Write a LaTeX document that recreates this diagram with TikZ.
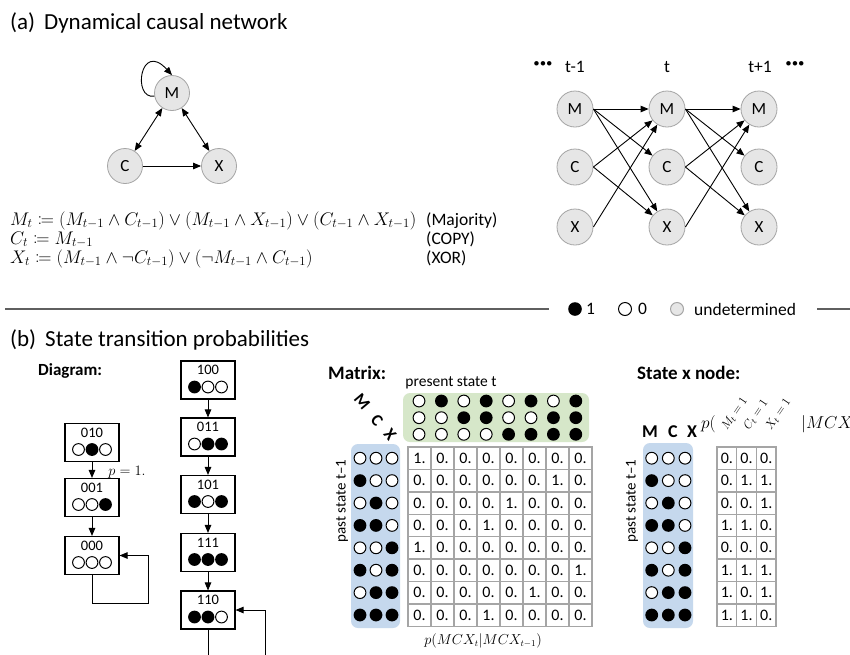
\documentclass[tikz,border=0pt]{standalone}
\usepackage{amsmath}
\usepackage{mathtools}
\usepackage{graphicx}
\usepackage{fontspec}
\setmainfont{Carlito}
\usetikzlibrary{arrows.meta}
\definecolor{nodefill}{RGB}{230,230,230}
\definecolor{nodedraw}{RGB}{165,165,165}
\definecolor{bluebg}{RGB}{197,216,237}
\definecolor{greenbg}{RGB}{214,231,201}
\definecolor{gridgray}{RGB}{165,165,165}
\definecolor{rulegray}{RGB}{95,95,95}
\newcommand\fs[1]{\fontsize{#1}{#1}\selectfont}
\newcommand\eqs[1]{\scalebox{1.058}{$#1$}}
\newcommand\bitc[3]{\ifnum#3=1 \fill[black] (#1,#2) circle[radius=6.4pt];\else\draw[black,line width=1pt,fill=white] (#1,#2) circle[radius=5.9pt];\fi}
\newcommand\stnode[6]{%
  \node[stbox] (#1) at (#2,#3) {};
  \node[boxlbl] (#1l) at ([yshift=10pt]#1.center) {#4};
  \bitc{#2-13.5}{#3+7}{#5}\bitc{#2}{#3+7}{#6}}
\newcommand\stbit[3]{\bitc{#1+13.5}{#2+7}{#3}}
\begin{document}
\begin{tikzpicture}[x=1pt,y=-1pt,
  netnode/.style={circle,draw=nodedraw,fill=nodefill,line width=0.8pt,minimum size=35pt,inner sep=0pt,font=\fs{17}},
  arr/.style={-{Triangle[length=8pt,width=6.5pt]},line width=0.9pt},
  darr/.style={{Triangle[length=8pt,width=6.5pt]}-{Triangle[length=8pt,width=6.5pt]},line width=0.9pt},
  stbox/.style={draw,line width=1.1pt,minimum width=54pt,minimum height=38pt,inner sep=0pt},
  boxlbl/.style={font=\fs{14.5},inner sep=0pt},
  mcell/.style={draw=gridgray,line width=1.4pt,minimum width=23pt,minimum height=22.4pt,inner sep=0pt,font=\fs{16}},
  xcell/.style={mcell,minimum width=19.7pt},
  lbl/.style={inner sep=0pt},
  head/.style={inner sep=0pt,font=\fs{23}},
  eqn/.style={inner sep=0pt,anchor=base west,font=\fs{17.28}},
]
\useasboundingbox (0,0) rectangle (850,654);
\clip (0,0) rectangle (850,654);
\fill[white] (0,0) rectangle (850,654);

% ---------- (a)
\node[head,anchor=west] (ha) at (10,23) {(a)\, Dynamical causal network};

\node[netnode] (M) at (172,93) {M};
\node[netnode] (C) at (125,166) {C};
\node[netnode] (X) at (219,166) {X};
\draw[darr] (M) -- (C);
\draw[darr] (M) -- (X);
\draw[arr] (C) -- (X);
\draw[arr] (M.190) .. controls (132,100) and (140,40) .. (M.north);

\foreach \col/\xx in {A/575,B/667,C/759}{
  \node[netnode,minimum size=36pt] (m\col) at (\xx,109) {M};
  \node[netnode,minimum size=36pt] (c\col) at (\xx,167) {C};
  \node[netnode,minimum size=36pt] (x\col) at (\xx,227) {X};
}
\foreach \s/\t in {A/B,B/C}{
  \draw[arr] (m\s.east) -- (m\t);
  \draw[arr] (m\s.east) -- (c\t);
  \draw[arr] (m\s.east) -- (x\t);
  \draw[arr] (c\s.east) -- (m\t);
  \draw[arr] (c\s.east) -- (x\t);
  \draw[arr] (x\s.east) -- (m\t);
}
\node[lbl,font=\fs{17.5}] (tA) at (575,67) {t-1};
\node[lbl,font=\fs{17.5}] (tB) at (667,67) {t};
\node[lbl,font=\fs{17.5}] (tC) at (760,67) {t+1};
\node[lbl,font=\fs{24}\bfseries] (d1) at (543,66) {···};
\node[lbl,font=\fs{24}\bfseries] (d2) at (795,66) {···};

\node[eqn] (eq1) at (10,225) {\eqs{M_t \coloneqq (M_{t-1}\wedge C_{t-1})\vee(M_{t-1}\wedge X_{t-1})\vee(C_{t-1}\wedge X_{t-1})}};
\node[eqn] (eq2) at (10,244) {\eqs{C_t \coloneqq M_{t-1}}};
\node[eqn] (eq3) at (10,263) {\eqs{X_t \coloneqq (M_{t-1}\wedge\neg C_{t-1})\vee(\neg M_{t-1}\wedge C_{t-1})}};
\node[lbl,anchor=base west,font=\fs{17.5}] (n1) at (426,225) {(Majority)};
\node[lbl,anchor=base west,font=\fs{17.5}] (n2) at (426,244) {(COPY)};
\node[lbl,anchor=base west,font=\fs{17.5}] (n3) at (426,263) {(XOR)};

% ---------- separator and legend
\draw[rulegray,line width=1.6pt] (5,309) -- (549,309);
\draw[rulegray,line width=1.6pt] (817,309) -- (850,309);
\fill[black] (575,309) circle[radius=6.8pt];
\node[lbl,anchor=west,font=\fs{17.5}] (l1) at (586,309) {1};
\draw[black,line width=1pt,fill=white] (625,309) circle[radius=6.5pt];
\node[lbl,anchor=west,font=\fs{17.5}] (l0) at (638,309) {0};
\draw[nodedraw,line width=1pt,fill=nodefill] (677,309) circle[radius=6.5pt];
\node[lbl,anchor=west,font=\fs{17.5}] (lu) at (694,309) {undetermined};

% ---------- (b)
\node[head,anchor=west] (hb) at (10,340) {(b)\, State transition probabilities};

% Diagram
\node[lbl,anchor=west,font=\fs{17}\bfseries] (hd) at (38,371) {Diagram:};
\stnode{b010}{92}{442.5}{010}{0}{1}\stbit{92}{442.5}{0}
\stnode{b001}{92}{497.5}{001}{0}{0}\stbit{92}{497.5}{1}
\stnode{b000}{92}{555.5}{000}{0}{0}\stbit{92}{555.5}{0}
\stnode{b100}{208}{380}{100}{1}{0}\stbit{208}{380}{0}
\stnode{b011}{208}{437}{011}{0}{1}\stbit{208}{437}{1}
\stnode{b101}{208}{494.5}{101}{1}{0}\stbit{208}{494.5}{1}
\stnode{b111}{208}{552.5}{111}{1}{1}\stbit{208}{552.5}{1}
\stnode{b110}{208}{610}{110}{1}{1}\stbit{208}{610}{0}
\draw[arr] (b010) -- (b001);
\draw[arr] (b001) -- (b000);
\draw[arr] (b100) -- (b011);
\draw[arr] (b011) -- (b101);
\draw[arr] (b101) -- (b111);
\draw[arr] (b111) -- (b110);
\node[lbl,font=\fs{14.5}] (p1) at (127,472) {$p=1.$};
\coordinate (loopA) at (148,603);
\draw[arr] (b000.south) |- (loopA) |- (b000.east);
\coordinate (loopB) at (208,660);
\coordinate (loopC) at (265,660);
\draw[line width=0.9pt] (b110.south) -- (loopB);
\draw[arr] (loopC) |- (b110.east);

% Matrix
\node[lbl,anchor=west,font=\fs{19}\bfseries] (hm) at (328,373) {Matrix:};
\node[lbl,font=\fs{15.5}] (ps) at (451,383) {present state t};
\fill[greenbg,rounded corners=7pt] (403,393) rectangle (589,442);
\foreach \j in {0,...,7}{
  \pgfmathtruncatemacro\bm{mod(\j,2)}
  \pgfmathtruncatemacro\bc{mod(floor(\j/2),2)}
  \pgfmathtruncatemacro\bx{floor(\j/4)}
  \pgfmathsetmacro\xx{419+22.4*\j}
  \bitc{\xx}{401}{\bm}
  \bitc{\xx}{417.7}{\bc}
  \bitc{\xx}{434.3}{\bx}
}
\node[lbl,font=\fs{17}\bfseries,rotate=-50] (rM) at (362,402) {M};
\node[lbl,font=\fs{17}\bfseries,rotate=-50] (rC) at (377,420) {C};
\node[lbl,font=\fs{17}\bfseries,rotate=-50] (rX) at (390,435) {X};

\fill[bluebg,rounded corners=7pt] (351,444) rectangle (400,628);
\fill[bluebg,rounded corners=7pt] (643,443) rectangle (693,628);
\foreach \a/\b/\c [count=\i from 0] in {0/0/0,1/0/0,0/1/0,1/1/0,0/0/1,1/0/1,0/1/1,1/1/1}{
  \pgfmathsetmacro\yy{458.2+22.4*\i}
  \bitc{360}{\yy}{\a}\bitc{376}{\yy}{\b}\bitc{392}{\yy}{\c}
  \bitc{651.7}{\yy}{\a}\bitc{668.3}{\yy}{\b}\bitc{685}{\yy}{\c}
}
\node[lbl,font=\fs{15},rotate=90] (pst1) at (342,501) {past state t–1};
\node[lbl,font=\fs{15},rotate=90] (pst2) at (632,501) {past state t–1};

\foreach \row [count=\i from 0] in {{1,0,0,0,0,0,0,0},{0,0,0,0,0,0,1,0},{0,0,0,0,1,0,0,0},{0,0,0,1,0,0,0,0},{1,0,0,0,0,0,0,0},{0,0,0,0,0,0,0,1},{0,0,0,0,0,1,0,0},{0,0,0,1,0,0,0,0}}{
  \foreach \v [count=\j from 0] in \row{
    \node[mcell] (m-\i-\j) at ({419.5+23*\j},{458.2+22.4*\i}) {\v.};
  }
}
\node[lbl,font=\fs{13.5}] (pm) at (483,641) {$p(MCX_t|MCX_{t-1})$};

% State x node
\node[lbl,anchor=west,font=\fs{19}\bfseries] (hs) at (637,373) {State x node:};
\node[lbl,font=\fs{18}\bfseries] (sM) at (650,432) {M};
\node[lbl,font=\fs{18}\bfseries] (sC) at (673,432) {C};
\node[lbl,font=\fs{18}\bfseries] (sX) at (692,432) {X};
\foreach \row [count=\i from 0] in {{0,0,0},{0,1,1},{0,0,1},{1,1,0},{0,0,0},{1,1,1},{1,0,1},{1,1,0}}{
  \foreach \v [count=\j from 0] in \row{
    \node[xcell] (s-\i-\j) at ({726.85+19.7*\j},{458.2+22.4*\i}) {\v.};
  }
}
\node[lbl,anchor=base west,font=\fs{16}] (pp) at (701,428) {$p($};
\node[lbl,anchor=base west,font=\fs{13},rotate=56] (rm1) at (727,431) {$M_t=1$};
\node[lbl,anchor=base west,font=\fs{13},rotate=56] (rc1) at (749,431) {$C_t=1$};
\node[lbl,anchor=base west,font=\fs{13},rotate=56] (rx1) at (771,431) {$X_t=1$};
\node[lbl,anchor=base west,font=\fs{16}] (pq) at (801,428) {$|MCX_{t-1})$};
\end{tikzpicture}
\end{document}
